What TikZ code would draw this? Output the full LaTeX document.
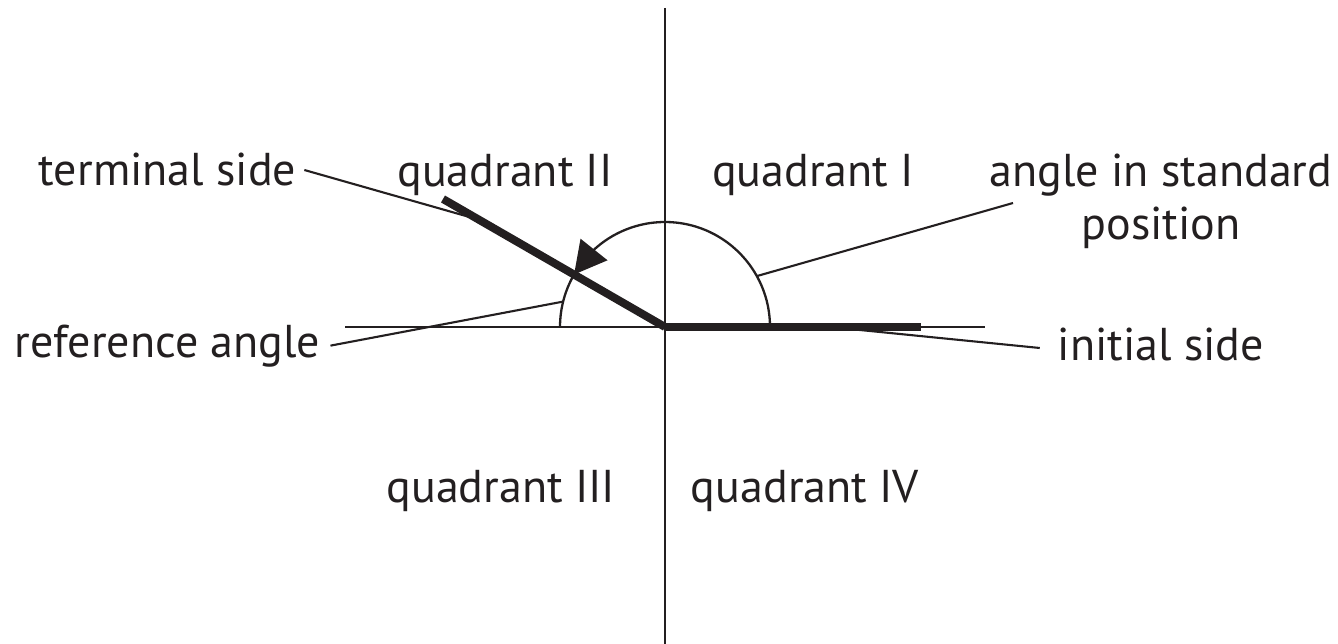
\documentclass[tikz,border=0pt]{standalone}
\usepackage{fontspec}
\setmainfont{PT Sans}
\usetikzlibrary{arrows.meta,bending,calc}
\definecolor{ink}{RGB}{35,31,32}
\begin{document}
\begin{tikzpicture}[x=1pt,y=-1pt,
  axisline/.style={line width=2.5pt, draw=ink},
  thinline/.style={line width=2.3pt, draw=ink},
  leader/.style={line width=2.1pt, draw=ink},
  sideline/.style={line width=8pt, draw=ink},
  lbl/.style={inner sep=0pt, text=ink, font=\fontsize{46}{53}\selectfont},
]
\useasboundingbox (0,0) rectangle (1338,644);
% key points
\coordinate (O) at (665,327);
\coordinate (ytop) at (665,8);
\coordinate (ybot) at (665,644);
\coordinate (xl) at (345,327);
\coordinate (xr) at (985,327);
\coordinate (T) at (443,199);
\coordinate (I) at (921,327);
\coordinate (tsend) at (480,220);
\coordinate (isstart) at (840,328);
\coordinate (aspend) at (1013,203);
\coordinate (refarc) at ($(O)+(166:105pt)$);
\coordinate (asparc) at ($(O)+(29:105pt)$);
\coordinate (arcR) at ($(O)+(0:105pt)$);
\coordinate (arcT) at ($(O)+(150:105pt)$);
% labels
\node[lbl, anchor=base] (term) at (167.5,186) {terminal side};
\node[lbl, anchor=base] (ref) at (167.5,357) {reference angle};
\node[lbl, anchor=base] (q2) at (505,187) {quadrant II};
\node[lbl, anchor=base] (q1) at (813,187) {quadrant I};
\node[lbl, anchor=base] (q3) at (501,502) {quadrant III};
\node[lbl, anchor=base] (q4) at (805,502) {quadrant IV};
\node[lbl, anchor=base, align=center] (asp) at (1161,240) {angle in standard\\position};
\node[lbl, anchor=base] (init) at (1161,360) {initial side};
% leaders
\draw[leader] ([xshift=8pt]term.east) -- (tsend);
\draw[leader] ([xshift=10pt]ref.east) -- (refarc);
\draw[leader] (asparc) -- (aspend);
\draw[leader] (isstart) -- ([shift={(-18pt,-4pt)}]init.west);
% axes
\draw[axisline] (ytop) -- (ybot);
\draw[thinline] (xl) -- (xr);
% arcs
\draw[thinline] (arcT) arc[start angle=150, end angle=180, radius=105pt];
\draw[thinline, -{Triangle[length=32pt,width=34pt]}] (arcR) arc[start angle=0, end angle=150, radius=105pt];
% sides
\draw[sideline] (O) -- (T);
\draw[sideline] (O) -- (I);
\end{tikzpicture}
\end{document}
